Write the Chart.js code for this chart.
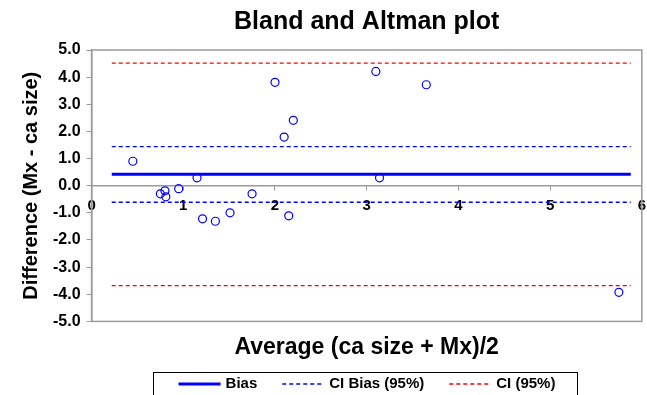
<!DOCTYPE html>
<html>
<head>
    <title>Bland and Altman plot</title>
    <script src="https://cdn.jsdelivr.net/npm/chart.js"></script>
    <style>
        html, body { margin: 0; padding: 0; background: #fff; }
        #wrap { width: 647px; height: 395px; }
    </style>
</head>
<body>
    <div id="wrap"><canvas id="baChart" width="647" height="395"></canvas></div>
    <script>
        // averages (x) and differences (y)
        var avgVals  = [0.45, 0.75, 0.80, 0.81, 0.95, 1.15, 1.21, 1.35, 1.51, 1.75, 2.00, 2.10, 2.15, 2.20, 3.10, 3.14, 3.65, 5.75];
        var diffVals = [0.90, -0.30, -0.19, -0.41, -0.11, 0.29, -1.22, -1.31, -1.00, -0.30, 3.81, 1.79, -1.11, 2.41, 4.21, 0.29, 3.72, -3.93];

        // reference lines
        var lineRange = [0.22, 5.88];
        var biasVal = 0.42;
        var ciBiasVals = [1.44, -0.61];
        var ciVals = [4.52, -3.68];

        var xTicks = [0, 1, 2, 3, 4, 5, 6];
        var yTicks = [-5, -4, -3, -2, -1, 0, 1, 2, 3, 4, 5];

        var FONT = "'Liberation Sans', Arial, sans-serif";
        var BLUE = '#0000ff';
        var RED = '#ff0000';
        var GREY = '#9a9a9a';
        var TITLE = 'Bland and Altman plot';

        function hline(y) {
            return lineRange.map(function(x) { return { x: x, y: y }; });
        }

        var points = avgVals.map(function(a, i) { return { x: a, y: diffVals[i] }; });

        // gray frame round the plot area, title over the plot area, boxed legend at the bottom
        var framePlugin = {
            id: 'frame',
            beforeDatasetsDraw: function(chart) {
                var a = chart.chartArea, c = chart.ctx;
                c.save();
                c.strokeStyle = GREY;
                c.lineWidth = 1.5;
                c.strokeRect(a.left, a.top, a.right - a.left, a.bottom - a.top);
                c.restore();
            },
            afterDraw: function(chart) {
                var c = chart.ctx, a = chart.chartArea;
                c.save();
                c.fillStyle = '#000';
                c.textAlign = 'center';
                c.textBaseline = 'middle';
                c.font = 'bold 25px ' + FONT;
                c.fillText(TITLE, (a.left + a.right) / 2, 22);

                var items = chart.data.datasets.filter(function(d) { return d.legendText; })
                    .sort(function(p, q) { return p.legendPos - q.legendPos; });
                var lineLen = 42, gap = 5, spacing = 25, cy = 384;
                c.textAlign = 'left';
                c.font = 'bold 15px ' + FONT;
                var total = 0;
                items.forEach(function(d, i) {
                    d._w = lineLen + gap + c.measureText(d.legendText).width;
                    total += d._w + (i ? spacing : 0);
                });
                var boxW = 424, mid = 365;
                c.strokeStyle = '#000';
                c.lineWidth = 1;
                c.strokeRect(mid - boxW / 2 + 0.5, 372.5, boxW, 40);
                var x = mid - total / 2 + 2;
                items.forEach(function(d) {
                    c.beginPath();
                    c.strokeStyle = d.borderColor;
                    c.lineWidth = d.borderWidth;
                    c.setLineDash(d.borderDash || []);
                    c.moveTo(x, cy);
                    c.lineTo(x + lineLen, cy);
                    c.stroke();
                    c.setLineDash([]);
                    c.fillText(d.legendText, x + lineLen + gap, cy);
                    x += d._w + spacing;
                });
                c.restore();
            }
        };

        var lineStyle = { showLine: true, pointRadius: 0, pointHoverRadius: 0, fill: false };

        var ctx = document.getElementById('baChart').getContext('2d');
        var chart = new Chart(ctx, {
            type: 'scatter',
            data: {
                datasets: [
                    Object.assign({ data: hline(ciVals[0]), borderColor: RED, borderWidth: 1.3, borderDash: [4, 3], legendText: 'CI (95%)', legendPos: 3, order: 3 }, lineStyle),
                    Object.assign({ data: hline(ciVals[1]), borderColor: RED, borderWidth: 1.3, borderDash: [4, 3], order: 3 }, lineStyle),
                    Object.assign({ data: hline(ciBiasVals[0]), borderColor: BLUE, borderWidth: 1.3, borderDash: [4, 3], legendText: 'CI Bias (95%)', legendPos: 2, order: 2 }, lineStyle),
                    Object.assign({ data: hline(ciBiasVals[1]), borderColor: BLUE, borderWidth: 1.3, borderDash: [4, 3], order: 2 }, lineStyle),
                    Object.assign({ data: hline(biasVal), borderColor: BLUE, borderWidth: 3, legendText: 'Bias', legendPos: 1, order: 1 }, lineStyle),
                    {
                        data: points,
                        pointStyle: 'circle',
                        pointRadius: 4,
                        borderColor: BLUE,
                        backgroundColor: 'rgba(0,0,0,0)',
                        borderWidth: 1.2,
                        order: 4
                    }
                ]
            },
            options: {
                responsive: false,
                animation: false,
                layout: { padding: { left: 0, right: 5, top: 50, bottom: 31 } },
                plugins: {
                    legend: { display: false },
                    tooltip: { enabled: false },
                    title: { display: false }
                },
                scales: {
                    x: {
                        type: 'linear',
                        position: { y: 0 },
                        min: xTicks[0],
                        max: xTicks[xTicks.length - 1],
                        afterBuildTicks: function(s) { s.ticks = xTicks.map(function(v) { return { value: v }; }); },
                        // let the end labels sit on the frame like in the original
                        afterFit: function(s) { s.paddingLeft = 0; s.paddingRight = 0; },
                        ticks: {
                            color: '#000',
                            padding: 7,
                            font: { family: FONT, size: 15, weight: 'bold' },
                            callback: function(v) { return String(v); }
                        },
                        grid: { drawOnChartArea: false, tickLength: 4, color: GREY },
                        border: { color: GREY, width: 1.5 }
                    },
                    xTitle: {
                        type: 'linear',
                        position: 'bottom',
                        axis: 'x',
                        min: xTicks[0],
                        max: xTicks[xTicks.length - 1],
                        ticks: { display: false },
                        grid: { display: false, drawTicks: false },
                        border: { display: false },
                        title: {
                            display: true,
                            text: 'Average (ca size + Mx)/2',
                            color: '#000',
                            font: { family: FONT, size: 23, weight: 'bold' },
                            padding: { top: 12, bottom: 3 }
                        }
                    },
                    y: {
                        type: 'linear',
                        min: yTicks[0],
                        max: yTicks[yTicks.length - 1],
                        afterBuildTicks: function(s) { s.ticks = yTicks.map(function(v) { return { value: v }; }); },
                        ticks: {
                            color: '#000',
                            padding: 6,
                            font: { family: FONT, size: 16, weight: 'bold' },
                            callback: function(v) { return Number(v).toFixed(1); }
                        },
                        grid: { drawOnChartArea: false, tickLength: 5, color: GREY },
                        border: { color: GREY, width: 1.5 },
                        title: {
                            display: true,
                            text: 'Difference (Mx - ca size)',
                            color: '#000',
                            font: { family: FONT, size: 20, weight: 'bold' },
                            padding: { top: 19, bottom: 4 }
                        }
                    }
                }
            },
            plugins: [framePlugin]
        });
    </script>
</body>
</html>
